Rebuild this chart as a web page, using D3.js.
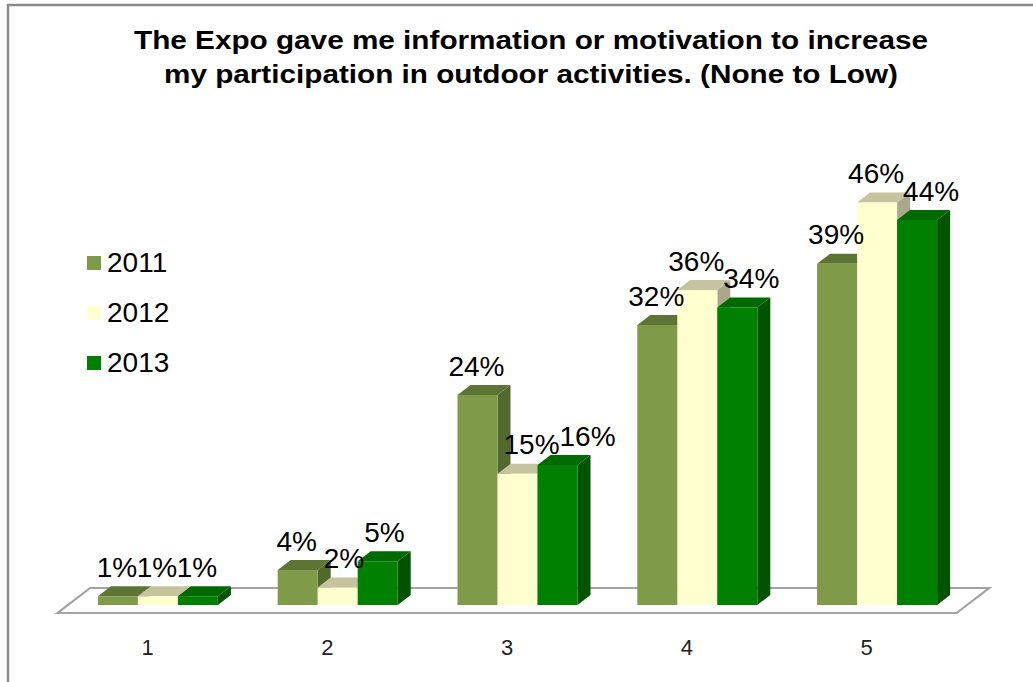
<html>
<head>
<script src="https://cdnjs.cloudflare.com/ajax/libs/d3/7.8.5/d3.min.js"></script>
<style>
  body { margin: 0; background: #fff; }
  text { font-family: "Liberation Sans", Arial, sans-serif; }
</style>
</head>
<body>
<svg id="chart" width="1033" height="682"></svg>
<script>
// data
const categories = ["1", "2", "3", "4", "5"];
const series = ["2011", "2012", "2013"];
const values2011 = [1, 4, 24, 32, 39];
const values2012 = [1, 2, 15, 36, 46];
const values2013 = [1, 5, 16, 34, 44];
const titleLines = ["The Expo gave me information or motivation to increase",
                    "my participation in outdoor activities. (None to Low)"];

const colors = {
  "2011": {front: "#7f9a48", top: "#5e7434", side: "#53682c"},
  "2012": {front: "#ffffd0", top: "#c5c49f", side: "#a9a88a"},
  "2013": {front: "#008000", top: "#006a00", side: "#005400"}
};

const seriesValues = {"2011": values2011, "2012": values2012, "2013": values2013};
const flat = [];
categories.forEach((c, i) => series.forEach(s => flat.push({cat: c, series: s, value: seriesValues[s][i]})));

const svg = d3.select("#chart");
const base = 605, dx = 13, dy = 10;

const x = d3.scaleBand().domain(categories).range([68, 967]);
const xs = d3.scaleBand().domain(series).range([0, 120]);
const inset = (x.bandwidth() - 120) / 2;
const y = d3.scaleLinear().domain([0, 100]).range([base, base - 875]);

// frame
svg.append("path").attr("d", "M8,682V5H1033")
  .attr("fill", "none").attr("stroke", "#8c8c8c").attr("stroke-width", 2.5);

// title
svg.selectAll("text.title").data(titleLines).join("text")
  .attr("class", "title")
  .attr("x", 531).attr("y", (d, i) => 49 + i * 34)
  .attr("text-anchor", "middle")
  .attr("font-size", 25).attr("font-weight", "bold")
  .attr("textLength", (d, i) => i ? 734 : 794)
  .attr("lengthAdjust", "spacingAndGlyphs")
  .text(d => d);

// floor
const [x0, x1] = x.range();
const fk = 1.3;
const floor = [[x0 - 8 * fk, base + 8], [x1 - 8 * fk, base + 8], [x1 + 17 * fk, base - 17], [x0 + 17 * fk, base - 17]];
svg.append("path").attr("d", "M" + floor.join("L") + "Z")
  .attr("fill", "#fff").attr("stroke", "#a3a3a3").attr("stroke-width", 2.2);

// bars
const bx = d => x(d.cat) + inset + xs(d.series);
const bars = svg.selectAll("g.bar").data(flat).join("g").attr("class", "bar");
bars.append("path")
  .attr("d", d => {
    const l = bx(d) + xs.bandwidth(), t = y(d.value);
    return `M${l},${t}L${l + dx},${t - dy}L${l + dx},${base - dy}L${l},${base}Z`;
  })
  .attr("fill", d => colors[d.series].side);
bars.append("path")
  .attr("d", d => {
    const l = bx(d), t = y(d.value), w = xs.bandwidth();
    return `M${l},${t}L${l + dx},${t - dy}L${l + w + dx},${t - dy}L${l + w},${t}Z`;
  })
  .attr("fill", d => colors[d.series].top);
bars.append("rect")
  .attr("x", bx).attr("y", d => y(d.value))
  .attr("width", xs.bandwidth()).attr("height", d => base - y(d.value))
  .attr("fill", d => colors[d.series].front);

// data labels, nudged right when they run into an earlier label or bar
categories.forEach(c => {
  const boxes = [], fronts = [];
  flat.filter(d => d.cat === c).forEach(d => {
    const t = svg.append("text").attr("font-size", 28).attr("fill", "#000").text(d.value + "%");
    const w = t.node().getComputedTextLength();
    const cx = bx(d) + xs.bandwidth() / 2 - 1;
    const bl = y(d.value) - 19.5;
    const box = {l: cx - w / 2, t: bl - 24, b: bl + 6, w: w};
    let moved = true;
    while (moved) {
      moved = false;
      fronts.forEach(f => {
        if (box.l < f.r && box.l + w > f.l && box.t < f.b && box.b > f.t) { box.l = f.r + 6; moved = true; }
      });
      boxes.forEach(o => {
        if (box.l < o.l + o.w - 3 && box.l + w > o.l && box.t < o.b && box.b > o.t) { box.l = o.l + o.w; moved = true; }
      });
    }
    boxes.push(box);
    fronts.push({l: bx(d), r: bx(d) + xs.bandwidth(), t: y(d.value), b: base});
    t.attr("x", box.l).attr("y", bl);
  });
});

// category labels along the front edge of the floor
svg.selectAll("text.cat").data(categories).join("text")
  .attr("class", "cat")
  .attr("x", d => x(d) + x.bandwidth() / 2 - 8 * fk)
  .attr("y", 655)
  .attr("text-anchor", "middle")
  .attr("font-size", 22).attr("fill", "#222")
  .text(d => d);

// legend
const legend = svg.selectAll("g.legend").data(series).join("g")
  .attr("class", "legend")
  .attr("transform", (d, i) => `translate(87,${256 + i * 50})`);
legend.append("rect").attr("width", 14).attr("height", 14)
  .attr("fill", d => colors[d].front);
legend.append("text").attr("x", 20).attr("y", 16)
  .attr("font-size", 28).attr("fill", "#000")
  .text(d => d);
</script>
</body>
</html>
